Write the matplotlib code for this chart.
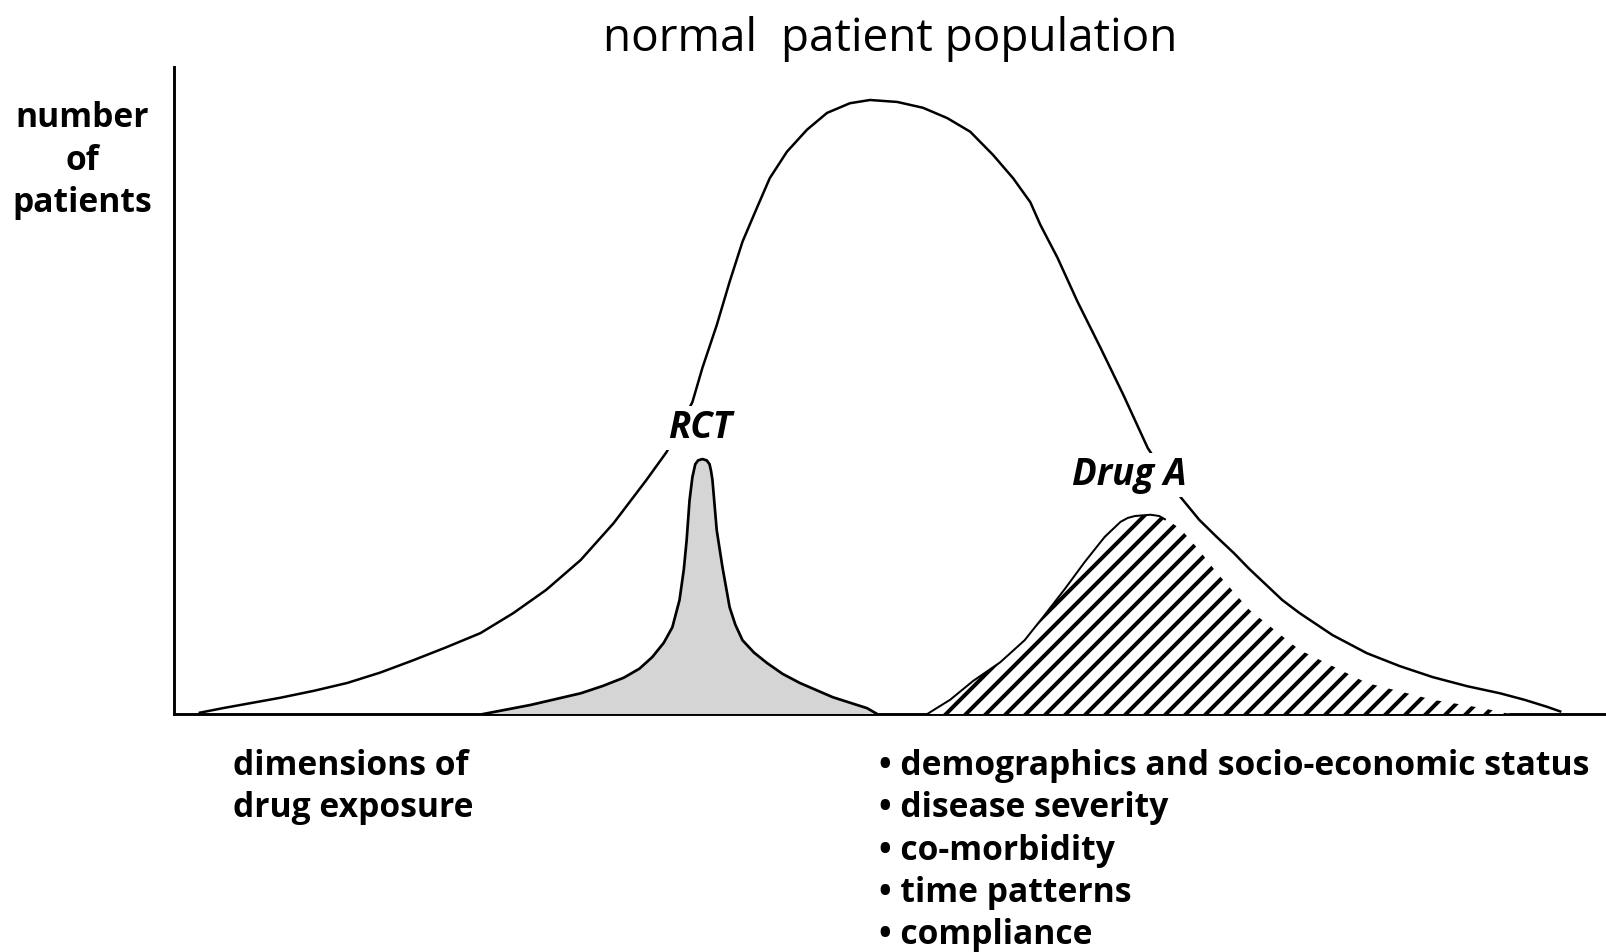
import matplotlib
matplotlib.use("Agg")
import matplotlib.pyplot as plt

W, H, DPI = 1606, 952, 120

# ---------------- data (schematic values, x: 0-100, y: 0-100) ----------------
pop_x = [1.8, 3.4, 5.4, 7.4, 9.8, 12.1, 14.4, 16.7, 19.0, 21.4, 23.7, 26.0, 28.4,
         30.7, 33.0, 34.4,
         36.2, 36.9, 37.9, 38.8, 39.7, 40.7, 41.6, 42.8, 44.2, 45.6, 47.2, 48.6,
         50.5, 52.3, 54.0, 55.6, 57.2, 58.6, 59.8, 60.5, 61.7, 63.1, 64.7, 66.3, 68.0,
         70.3, 71.6, 72.8, 74.0, 75.1, 76.3, 77.4, 78.6, 80.9, 83.3, 85.6, 87.9,
         90.3, 92.6, 94.3, 95.9, 96.8]
pop_y = [0.2, 0.9, 1.7, 2.5, 3.6, 4.8, 6.4, 8.3, 10.3, 12.5, 15.6, 19.2, 23.8,
         29.5, 36.2, 40.5,
         48.2, 53.5, 60.1, 66.8, 73.0, 78.2, 82.8, 86.9, 90.3, 92.9, 94.4, 94.9,
         94.6, 93.7, 92.1, 90.0, 86.4, 82.8, 79.1, 75.6, 70.5, 63.7, 56.6, 49.3, 41.1,
         33.5, 30.0, 27.4, 24.9, 22.4, 19.9, 17.6, 15.6, 12.2, 9.4, 7.4, 5.7,
         4.3, 3.2, 2.2, 1.1, 0.4]

rct_x = [21.6, 24.9, 28.4, 29.9, 31.4, 32.5, 33.4, 34.2, 34.8, 35.3, 35.6, 35.8,
         36.0, 36.2, 36.4, 36.6, 36.9, 37.2, 37.4, 37.5, 37.6, 37.9, 38.3, 38.8,
         39.2, 39.7, 40.5, 41.4, 42.5, 43.7, 46.0, 48.4, 49.1]
rct_y = [0.0, 1.4, 3.2, 4.3, 5.6, 7.0, 8.8, 11.0, 13.4, 17.6, 22.3, 26.9,
         33.0, 36.6, 38.6, 39.2, 39.4, 39.2, 38.6, 37.6, 36.2, 28.4, 22.7, 16.5,
         13.8, 11.4, 9.5, 7.9, 6.2, 4.8, 2.6, 0.9, 0.0]

drug_x = [52.6, 54.2, 55.8, 57.7, 59.4, 60.8, 62.2, 63.6, 65.0, 66.1, 66.6, 67.1,
          68.2, 68.8, 69.2, 69.9, 70.5, 71.6, 72.8, 75.1, 78.6, 83.3, 87.9, 91.4, 93.3]
drug_y = [0.0, 2.2, 5.1, 8.0, 11.4, 15.3, 19.3, 23.5, 27.4, 29.7, 30.3, 30.6,
          30.8, 30.6, 30.1, 29.2, 28.1, 25.3, 21.9, 16.1, 9.9, 4.8, 2.2, 0.9, 0.0]

title = "normal  patient population"
y_label_lines = ["number", "of", "patients"]
x_label_lines = ["dimensions of", "drug exposure"]
bullets = ["demographics and socio-economic status", "disease severity",
           "co-morbidity", "time patterns", "compliance"]
label_rct = "RCT"
label_drug = "Drug A"


def pt(px):
    """pixel size -> points at the figure dpi"""
    return px * 72.0 / DPI


# ---------------- figure ----------------
plt.rcParams["font.family"] = ["Open Sans", "DejaVu Sans"]
plt.rcParams["hatch.linewidth"] = pt(4.0)
plt.rcParams["hatch.color"] = "black"

fig = plt.figure(figsize=(W / DPI, H / DPI), dpi=DPI)
fig.patch.set_facecolor("white")

x0, y_base, y_top = 174, 714, 67
ax = fig.add_axes([x0 / W, (H - y_base) / H, (W - x0) / W, (y_base - y_top) / H])
ax.set_xlim(0, 100)
ax.set_ylim(0, 100)
ax.set_xticks([])
ax.set_yticks([])
for s in ("top", "right"):
    ax.spines[s].set_visible(False)
for s in ("left", "bottom"):
    ax.spines[s].set_linewidth(pt(2.9))
    ax.spines[s].set_color("black")
ax.patch.set_alpha(0)

# population curve
ax.plot(pop_x, pop_y, color="black", lw=pt(2.5), zorder=2, solid_joinstyle="round")

# RCT
ax.fill_between(rct_x, rct_y, 0, facecolor="#d5d5d5", edgecolor="none", zorder=4)
ax.plot(rct_x, rct_y, color="black", lw=pt(2.7), zorder=5, solid_joinstyle="round")

# Drug A (hatched)
ax.fill_between(drug_x, drug_y, 0, facecolor="white", edgecolor="black",
                linewidth=0, hatch="//", zorder=4)
ax.plot(drug_x[:15], drug_y[:15], color="black", lw=pt(2.0), zorder=5,
        solid_joinstyle="round")


def fx(px):
    return px / W


def fy(py):
    return 1 - py / H


# labels on the curves (white box opens a gap in the population curve)
fig.text(fx(700), fy(438), label_rct, ha="center", va="baseline", fontsize=pt(36.6),
         fontweight="bold", fontstyle="italic", zorder=3,
         bbox=dict(facecolor="white", edgecolor="none", pad=pt(3)))
fig.text(fx(1129), fy(485), label_drug, ha="center", va="baseline", fontsize=pt(36.6),
         fontweight="bold", fontstyle="italic", zorder=3,
         bbox=dict(facecolor="white", edgecolor="none", pad=pt(3)))

# title
fig.text(fx(890), fy(51), title, ha="center", va="baseline", fontsize=pt(46))

# y label
for i, t in enumerate(y_label_lines):
    fig.text(fx(82), fy(127 + 42.5 * i), t, ha="center", va="baseline",
             fontsize=pt(33.6), fontweight="bold")

# x label
for i, t in enumerate(x_label_lines):
    fig.text(fx(233), fy(775 + 42 * i), t, ha="left", va="baseline",
             fontsize=pt(33.6), fontweight="bold")

# bullet list
for i, t in enumerate(bullets):
    fig.text(fx(879), fy(775 + 42.3 * i), "\u2022 " + t, ha="left", va="baseline",
             fontsize=pt(33.6), fontweight="bold")

fig.savefig("out.png", dpi=DPI, facecolor="white")
